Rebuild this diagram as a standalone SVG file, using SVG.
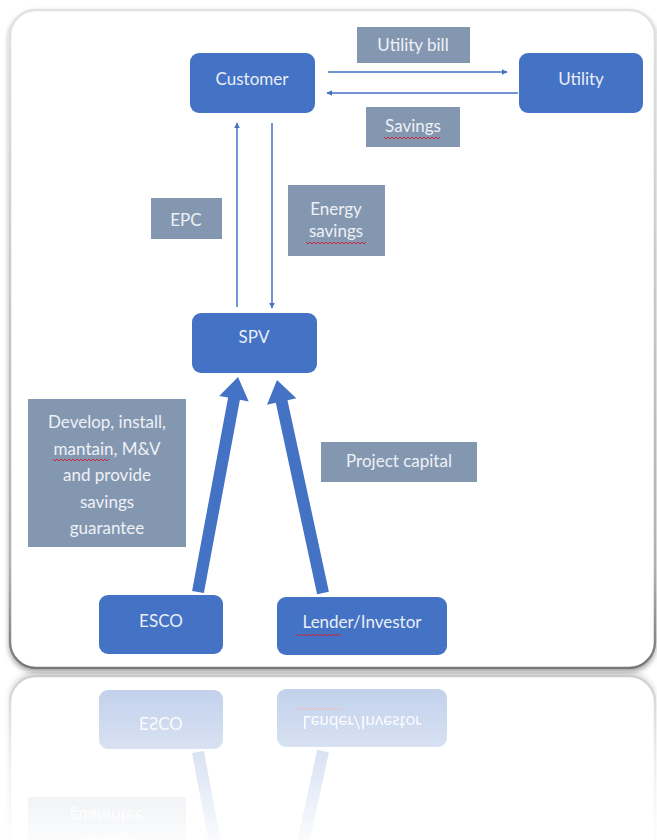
<svg xmlns="http://www.w3.org/2000/svg" xmlns:xlink="http://www.w3.org/1999/xlink" width="657" height="840" viewBox="0 0 657 840">
  <defs>
    <style>
      .node rect { fill: #4472C4; }
      .node text { fill: #e9eef7; font-family: Lato, "Liberation Sans", sans-serif; font-size: 17px; text-anchor: middle; }
      .label rect { fill: #8497B0; }
      .label text { fill: #eef1f6; font-family: Lato, "Liberation Sans", sans-serif; font-size: 17px; text-anchor: middle; }
      .thin { stroke: #4472C4; stroke-width: 1.5; fill: none; }
      .block { fill: #4472C4; }
      .squiggle { stroke: #c8283c; stroke-width: 1; fill: none; }
    </style>
    <marker id="head" viewBox="0 0 10 10" refX="9" refY="5" markerWidth="6" markerHeight="6" orient="auto-start-reverse" markerUnits="userSpaceOnUse">
      <path d="M0,0 L10,5 L0,10 z" fill="#4472C4"/>
    </marker>
    <linearGradient id="cardEdge" x1="0" y1="0" x2="0" y2="1">
      <stop offset="0" stop-color="#e2e2e2"/>
      <stop offset="0.85" stop-color="#b0b0b0"/>
      <stop offset="1" stop-color="#777777"/>
    </linearGradient>
    <filter id="cardShadow" x="-5%" y="-5%" width="110%" height="110%">
      <feDropShadow dx="0" dy="3" stdDeviation="2.5" flood-color="#000" flood-opacity="0.35"/>
    </filter>
    <linearGradient id="fadeGrad" gradientUnits="userSpaceOnUse" x1="0" y1="672" x2="0" y2="840">
      <stop offset="0" stop-color="#fff" stop-opacity="0.36"/>
      <stop offset="1" stop-color="#fff" stop-opacity="0.03"/>
    </linearGradient>
    <mask id="fade" maskUnits="userSpaceOnUse" x="0" y="672" width="657" height="168">
      <rect x="0" y="672" width="657" height="168" fill="url(#fadeGrad)"/>
    </mask>
  </defs>

  <rect width="657" height="840" fill="#ffffff"/>

  <g id="scene">
    <!-- card panel -->
    <rect id="card" x="10" y="10" width="645" height="658" rx="26" ry="26" fill="#ffffff" stroke="url(#cardEdge)" stroke-width="2.5" filter="url(#cardShadow)"/>

    <!-- connectors -->
    <g id="connectors">
      <line class="thin" x1="328" y1="72" x2="507" y2="72" marker-end="url(#head)"/>
      <line class="thin" x1="518" y1="93" x2="327" y2="93" marker-end="url(#head)"/>
      <line class="thin" x1="237" y1="307" x2="237" y2="123" marker-end="url(#head)"/>
      <line class="thin" x1="272" y1="123" x2="272" y2="308" marker-end="url(#head)"/>
      <polygon class="block" points="192.1,590.9 228.1,397.5 219.2,395.9 238,377 248.7,401.4 239.9,399.7 203.9,593.1"/>
      <polygon class="block" points="317.1,594.3 275.8,402.8 267.0,404.7 277,380 296.3,398.3 287.5,400.2 328.9,591.7"/>
    </g>

    <!-- nodes -->
    <g id="customer" class="node">
      <rect x="190" y="53" width="125" height="60" rx="9"/>
      <text x="252" y="85">Customer</text>
    </g>
    <g id="utility" class="node">
      <rect x="519" y="53" width="124" height="60" rx="9"/>
      <text x="581" y="85">Utility</text>
    </g>
    <g id="spv" class="node">
      <rect x="192" y="313" width="125" height="60" rx="9"/>
      <text x="254" y="343">SPV</text>
    </g>
    <g id="esco" class="node">
      <rect x="99" y="595" width="124" height="59" rx="9"/>
      <text x="161" y="627">ESCO</text>
    </g>
    <g id="lender" class="node">
      <rect x="277" y="597" width="170" height="58" rx="9"/>
      <text x="362" y="628">Lender/Investor</text>
      <path class="squiggle" d="M297,634 l2,2 l2,-2 l2,2 l2,-2 l2,2 l2,-2 l2,2 l2,-2 l2,2 l2,-2 l2,2 l2,-2 l2,2 l2,-2 l2,2 l2,-2 l2,2 l2,-2 l2,2 l2,-2 l2,2 l2,-2"/>
    </g>

    <!-- connector labels -->
    <g id="label-bill" class="label">
      <rect x="357" y="27" width="113" height="36"/>
      <text x="413" y="51">Utility bill</text>
    </g>
    <g id="label-savings" class="label">
      <rect x="366" y="107" width="94" height="40"/>
      <text x="413" y="132">Savings</text>
      <path class="squiggle" d="M384,137 l2,2 l2,-2 l2,2 l2,-2 l2,2 l2,-2 l2,2 l2,-2 l2,2 l2,-2 l2,2 l2,-2 l2,2 l2,-2 l2,2 l2,-2 l2,2 l2,-2 l2,2 l2,-2 l2,2 l2,-2 l2,2 l2,-2 l2,2 l2,-2 l2,2 l2,-2"/>
    </g>
    <g id="label-epc" class="label">
      <rect x="151" y="198" width="71" height="41"/>
      <text x="186" y="226">EPC</text>
    </g>
    <g id="label-energy" class="label">
      <rect x="288" y="185" width="97" height="71"/>
      <text x="336" y="215">Energy</text>
      <text x="336" y="237">savings</text>
      <path class="squiggle" d="M306,242 l2,2 l2,-2 l2,2 l2,-2 l2,2 l2,-2 l2,2 l2,-2 l2,2 l2,-2 l2,2 l2,-2 l2,2 l2,-2 l2,2 l2,-2 l2,2 l2,-2 l2,2 l2,-2 l2,2 l2,-2 l2,2 l2,-2 l2,2 l2,-2 l2,2 l2,-2 l2,2 l2,-2"/>
    </g>
    <g id="label-develop" class="label">
      <rect x="28" y="399" width="158" height="148"/>
      <text x="107" y="428">Develop, install,</text>
      <text x="107" y="455">mantain, M&amp;V</text>
      <text x="107" y="481">and provide</text>
      <text x="107" y="508">savings</text>
      <text x="107" y="534">guarantee</text>
      <path class="squiggle" d="M53,459 l2,2 l2,-2 l2,2 l2,-2 l2,2 l2,-2 l2,2 l2,-2 l2,2 l2,-2 l2,2 l2,-2 l2,2 l2,-2 l2,2 l2,-2 l2,2 l2,-2 l2,2 l2,-2 l2,2 l2,-2 l2,2 l2,-2 l2,2 l2,-2 l2,2 l2,-2"/>
    </g>
    <g id="label-capital" class="label">
      <rect x="321" y="442" width="156" height="40"/>
      <text x="399" y="467">Project capital</text>
    </g>
  </g>

  <!-- mirrored reflection under the card -->
  <g id="reflection" mask="url(#fade)">
    <use href="#scene" xlink:href="#scene" transform="translate(0,1344) scale(1,-1)"/>
  </g>
</svg>
